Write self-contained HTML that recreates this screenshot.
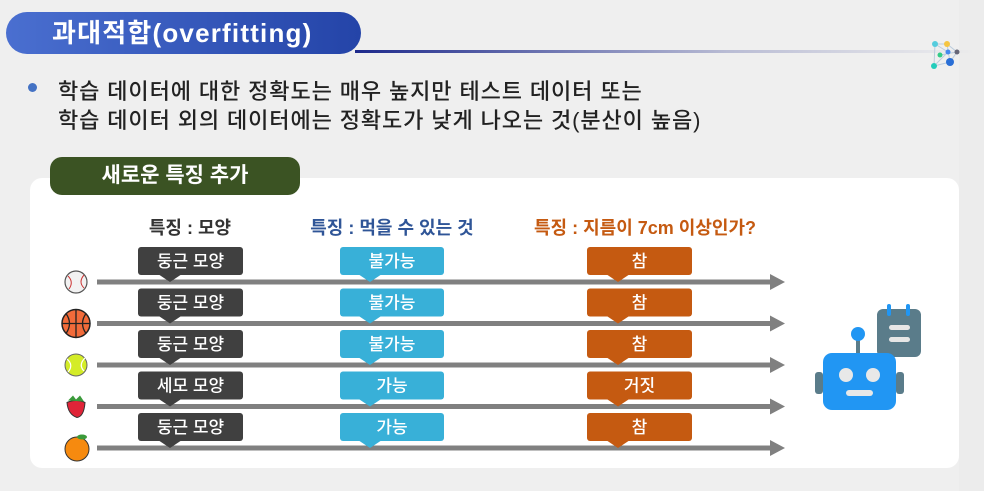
<!DOCTYPE html>
<html><head><meta charset="utf-8">
<style>
*{margin:0;padding:0;box-sizing:border-box}
body{width:984px;height:491px;overflow:hidden;background:#efefef;font-family:"Liberation Sans","Noto Sans CJK KR",sans-serif;position:relative}
.abs{position:absolute}
#title{left:6px;top:12px;width:355px;height:42px;border-radius:21px;background:linear-gradient(90deg,#4a6fd0,#2444a8);color:#fff;font-size:26px;font-weight:bold;line-height:42px;padding-left:46px;letter-spacing:1.2px}
#rule{left:355px;top:50px;width:620px;height:3px;background:linear-gradient(90deg,#1e2a8c,rgba(60,70,150,0.3) 60%,rgba(200,200,220,0))}
.bul{left:58px;font-size:22px;color:#222;letter-spacing:0.9px;font-weight:500;white-space:nowrap}
#dot{left:28px;top:83px;width:9px;height:9px;border-radius:50%;background:#4472c4}
#card{left:30px;top:178px;width:929px;height:290px;background:#fff;border-radius:12px}
#tag{left:50px;top:157px;width:250px;height:38px;border-radius:12px;background:#3b5323;color:#fff;font-size:21px;line-height:38px;text-align:center;font-weight:bold}
#rightbg{left:959px;top:0;width:25px;height:491px;background:#ececec}
</style></head><body>
<div class="abs" id="rightbg"></div>
<div class="abs" id="rule"></div>
<div class="abs" id="title">과대적합(overfitting)</div>
<svg class="abs" style="left:925px;top:36px" width="40" height="40">
<g stroke="#bcd" stroke-width="1" fill="none"><polyline points="10,8 22,8 32,16 25,26 9,30 10,8"/><line x1="10" y1="8" x2="23" y2="16"/><line x1="15" y1="19" x2="32" y2="16"/><line x1="9" y1="30" x2="23" y2="16"/><line x1="22" y1="8" x2="25" y2="26"/></g>
<circle cx="10" cy="8" r="3" fill="#5cd"/><circle cx="22" cy="8" r="3" fill="#f5c542"/><circle cx="32" cy="16" r="2.5" fill="#667"/><circle cx="25" cy="26" r="4" fill="#2a6fd6"/><circle cx="9" cy="30" r="3" fill="#2cb"/><circle cx="15" cy="19" r="2.5" fill="#3c8"/><circle cx="23" cy="16" r="2.5" fill="#48e"/></svg>
<div class="abs" id="dot"></div>
<div class="abs bul" style="top:74px">학습 데이터에 대한 정확도는 매우 높지만 테스트 데이터 또는</div>
<div class="abs bul" style="top:103px">학습 데이터 외의 데이터에는 정확도가 낮게 나오는 것(분산이 높음)</div>
<div class="abs" id="card"></div>
<div class="abs" id="tag">새로운 특징 추가</div>
<svg class="abs" style="left:0;top:0" width="984" height="491" id="diag"></svg>
<script>
const shapes=["둥근 모양","둥근 모양","둥근 모양","세모 모양","둥근 모양"];
const edible=["불가능","불가능","불가능","가능","가능"];
const diameter=["참","참","참","거짓","참"];
const items=["baseball","basketball","tennis-ball","strawberry","orange"];
const headers=["특징 : 모양","특징 : 먹을 수 있는 것","특징 : 지름이 7cm 이상인가?"];
const NS="http://www.w3.org/2000/svg";
const svg=document.getElementById('diag');
function mk(t,a,p){const e=document.createElementNS(NS,t);for(const k in a)e.setAttribute(k,a[k]);(p||svg).appendChild(e);return e;}
const lineY=i=>282+41.5*i;
const cols=[{x:138,w:105,tip:170,fill:"#404040",data:shapes,hc:"#333",hx:190},
{x:340,w:104,tip:370,fill:"#38b0d8",data:edible,hc:"#2f5597",hx:392},
{x:587,w:105,tip:618,fill:"#c55a11",data:diameter,hc:"#c55a11",hx:645}];
cols.forEach((c,j)=>{const h=mk('text',{x:c.hx,y:234,'text-anchor':'middle','font-size':18,'font-weight':'bold',fill:c.hc});


h.textContent=headers[j];});
items.forEach((it,i)=>{const y=lineY(i);
const g=mk('g',{});


mk('rect',{x:97,y:y-2.5,width:676,height:5,fill:'#808080'},g);
mk('polygon',{points:`${770},${y-8} ${785},${y} ${770},${y+8}`,fill:'#808080'},g);
cols.forEach(c=>{const top=y-35;
const b=mk('g',{},g);


mk('rect',{x:c.x,y:top,width:c.w,height:28,rx:3,fill:c.fill},b);
mk('polygon',{points:`${c.tip-12},${top+27} ${c.tip+12},${top+27} ${c.tip},${y}`,fill:c.fill},b);
const t=mk('text',{x:c.x+c.w/2,y:top+20,'text-anchor':'middle','font-size':17,'font-weight':500,fill:'#fff'},b);t.textContent=c.data[i];});
const cx=76,cy=y;
if(it==="baseball"){mk('circle',{cx,cy,r:11,fill:'#f2f2f2',stroke:'#555','stroke-width':1.2},g);mk('path',{d:`M${cx-8} ${cy-6} Q${cx-2} ${cy} ${cx-7} ${cy+7} M${cx+8} ${cy-7} Q${cx+2} ${cy} ${cx+8} ${cy+6}`,stroke:'#c33',fill:'none','stroke-width':1},g);}
if(it==="basketball"){mk('circle',{cx,cy,r:14,fill:'#f26b3a',stroke:'#222','stroke-width':1.5},g);mk('path',{d:`M${cx-14} ${cy} H${cx+14} M${cx} ${cy-14} V${cy+14} M${cx-10} ${cy-10} Q${cx-3} ${cy} ${cx-10} ${cy+10} M${cx+10} ${cy-10} Q${cx+3} ${cy} ${cx+10} ${cy+10}`,stroke:'#222',fill:'none','stroke-width':1.3},g);}
if(it==="tennis-ball"){mk('circle',{cx,cy,r:11,fill:'#d4ec27',stroke:'#666','stroke-width':1},g);mk('path',{d:`M${cx-9} ${cy-6} Q${cx-2} ${cy} ${cx-8} ${cy+7} M${cx+9} ${cy-7} Q${cx+2} ${cy} ${cx+8} ${cy+6}`,stroke:'#fff',fill:'none','stroke-width':1.2},g);}
if(it==="strawberry"){mk('path',{d:`M${cx-9} ${cy-4} Q${cx} ${cy-8} ${cx+9} ${cy-4} Q${cx+8} ${cy+10} ${cx+1} ${cy+11} Q${cx-8} ${cy+8} ${cx-9} ${cy-4}Z`,fill:'#e02438',stroke:'#333','stroke-width':1},g);mk('path',{d:`M${cx-8} ${cy-6} L${cx-3} ${cy-11} L${cx} ${cy-7} L${cx+4} ${cy-11} L${cx+8} ${cy-5}Z`,fill:'#3a9a3a'},g);}
if(it==="orange"){mk('circle',{cx:cx+1,cy:cy+1,r:12,fill:'#f68a0f',stroke:'#333','stroke-width':1},g);mk('ellipse',{cx:cx+6,cy:cy-11,rx:5,ry:2.5,fill:'#3a9a3a'},g);}
});
const r=mk('g',{});


mk('rect',{x:877,y:309,width:44,height:48,rx:6,fill:'#5a7c8a'},r);
mk('rect',{x:887,y:304,width:4,height:12,rx:2,fill:'#2196f3'},r);mk('rect',{x:906,y:304,width:4,height:12,rx:2,fill:'#2196f3'},r);
mk('rect',{x:889,y:325,width:21,height:5,rx:2.5,fill:'#e6e6e6'},r);mk('rect',{x:889,y:337,width:21,height:5,rx:2.5,fill:'#e6e6e6'},r);
mk('rect',{x:856,y:337,width:4,height:18,fill:'#5a7c8a'},r);
mk('circle',{cx:858,cy:334,r:7,fill:'#2196f3'},r);
mk('rect',{x:815,y:372,width:8,height:22,rx:3,fill:'#5a7c8a'},r);mk('rect',{x:896,y:372,width:8,height:22,rx:3,fill:'#5a7c8a'},r);
mk('rect',{x:823,y:353,width:73,height:57,rx:9,fill:'#2196f3'},r);
mk('circle',{cx:846,cy:375,r:7,fill:'#e8e8e8'},r);mk('circle',{cx:873,cy:375,r:7,fill:'#e8e8e8'},r);
mk('rect',{x:846,y:390,width:27,height:6,rx:3,fill:'#e8e8e8'},r);
</script>
</body></html>
